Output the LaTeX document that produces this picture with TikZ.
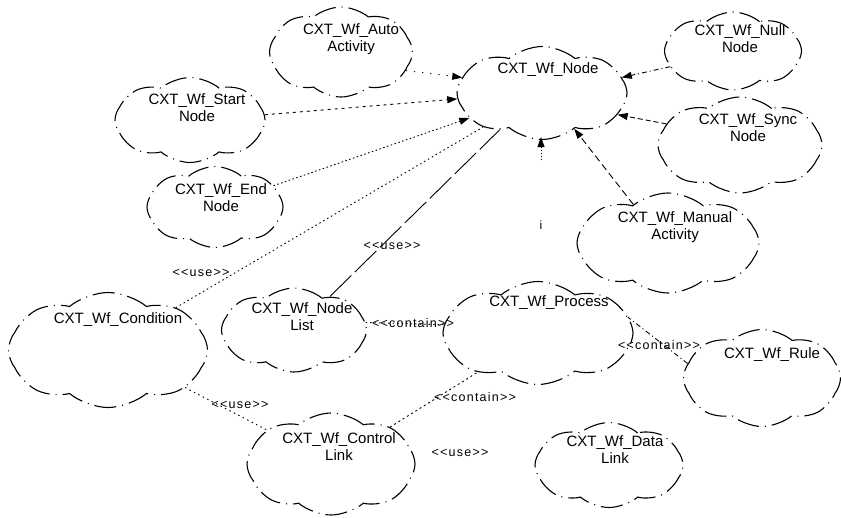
\documentclass[tikz,border=0pt]{standalone}
\usepackage{fontspec}
\setmainfont{Liberation Sans}
\newfontfamily\stereofont[LetterSpace=10]{Liberation Sans}
\usetikzlibrary{shapes.symbols,arrows.meta}
\begin{document}
\begin{tikzpicture}[x=1pt,y=-1pt,
  cloudbox/.style={cloud, cloud puffs=8, cloud puff arc=80, cloud ignores aspect,
    draw=black, line width=1.1pt, inner sep=0pt,
    dash pattern=on 22pt off 6pt on 1pt off 6pt},
  cname/.style={font=\fontsize{15}{17}\selectfont, align=center, inner sep=0pt},
  stereo/.style={font=\stereofont\fontsize{12.5}{14}\selectfont, inner sep=0pt},
  link/.style={line width=0.9pt},
  gen/.style={link, -{Triangle[length=10pt,width=7pt]}}
]
\useasboundingbox (0,0) rectangle (841,517);

% classes
\node[cloudbox, minimum width=143, minimum height=90]  (auto)    at (341,52)  {};
\node[cloudbox, minimum width=170, minimum height=93]  (node)    at (542,93)  {};
\node[cloudbox, minimum width=137, minimum height=78]  (null)    at (733,51)  {};
\node[cloudbox, minimum width=150, minimum height=85]  (start)   at (190,120) {};
\node[cloudbox, minimum width=164, minimum height=96]  (sync)    at (740,145) {};
\node[cloudbox, minimum width=136, minimum height=81]  (end)     at (215,207) {};
\node[cloudbox, minimum width=182, minimum height=100] (manual)  at (668,243) {};
\node[cloudbox, minimum width=199, minimum height=115] (cond)    at (108,350) {};
\node[cloudbox, minimum width=145, minimum height=84]  (nlist)   at (294,330) {};
\node[cloudbox, minimum width=190, minimum height=103] (process) at (538,333) {};
\node[cloudbox, minimum width=157, minimum height=97]  (rule)    at (762,378) {};
\node[cloudbox, minimum width=168, minimum height=102] (clink)   at (331,464) {};
\node[cloudbox, minimum width=148, minimum height=85]  (dlink)   at (609,465) {};

% class names
\node[cname] (auto-t)    at (351,39)  {CXT\_Wf\_Auto\\Activity};
\node[cname] (node-t)    at (548,70)  {CXT\_Wf\_Node};
\node[cname] (null-t)    at (740,39)  {CXT\_Wf\_Null\\Node};
\node[cname] (start-t)   at (197,108) {CXT\_Wf\_Start\\Node};
\node[cname] (sync-t)    at (748,128) {CXT\_Wf\_Sync\\Node};
\node[cname] (end-t)     at (221,198) {CXT\_Wf\_End\\Node};
\node[cname] (manual-t)  at (675,227) {CXT\_Wf\_Manual\\Activity};
\node[cname] (cond-t)    at (118,320) {CXT\_Wf\_Condition};
\node[cname] (nlist-t)   at (302,317) {CXT\_Wf\_Node\\List};
\node[cname] (process-t) at (549,303) {CXT\_Wf\_Process};
\node[cname] (rule-t)    at (772,355) {CXT\_Wf\_Rule};
\node[cname] (clink-t)   at (339,447) {CXT\_Wf\_Control\\Link};
\node[cname] (dlink-t)   at (615,450) {CXT\_Wf\_Data\\Link};

% inheritance towards CXT_Wf_Node
\draw[gen, dash pattern=on 1.2pt off 7pt]            (auto.-16)   -- (node.169);
\draw[gen, dash pattern=on 3pt off 4pt]              (start.4)    -- (node.184);
\draw[gen, dash pattern=on 1.5pt off 2.5pt]          (end.20)     -- (node.199);
\draw[gen, dash pattern=on 5pt off 3pt on 1pt off 3pt] (null.194) -- (node.11);
\draw[gen, dash pattern=on 5pt off 3pt]              (sync.164)   -- (node.344);
\draw[gen, dash pattern=on 7pt off 4pt]              (manual.132) -- (node.312);
% short stub pointing up into CXT_Wf_Node
\coordinate (stub) at (541,160);
\coordinate (stubtip) at (541,137);
\draw[gen, dash pattern=on 1pt off 2pt] (stub) -- (stubtip);
\node[font=\fontsize{12}{14}\selectfont] (imark) at (541,225) {i};

% usage and containment
\draw[link, dash pattern=on 1.5pt off 3pt]   (cond.32)   -- (node.210);
\draw[link, dash pattern=on 30pt off 5pt]    (nlist.43)  -- (node.221);
\draw[link, dash pattern=on 1.5pt off 3pt]   (nlist.6)   -- (process.175);
\draw[link, dash pattern=on 5pt off 3pt on 1pt off 3pt] (rule.169) -- (process.10);
\draw[link, dash pattern=on 2pt off 3pt]     (clink.32)  -- (process.213);
\draw[link, dash pattern=on 1.5pt off 3.5pt] (cond.-26)  -- (clink.152);

% stereotypes
\node[stereo] (use1)     at (201,273) {<{}<use>{}>};
\node[stereo] (use2)     at (392,246) {<{}<use>{}>};
\node[stereo] (contain1) at (413,323) {<{}<contain>{}>};
\node[stereo] (contain2) at (659,345) {<{}<contain>{}>};
\node[stereo] (contain3) at (475,397) {<{}<contain>{}>};
\node[stereo] (use3)     at (240,405) {<{}<use>{}>};
\node[stereo] (use4)     at (460,453) {<{}<use>{}>};
\end{tikzpicture}
\end{document}
